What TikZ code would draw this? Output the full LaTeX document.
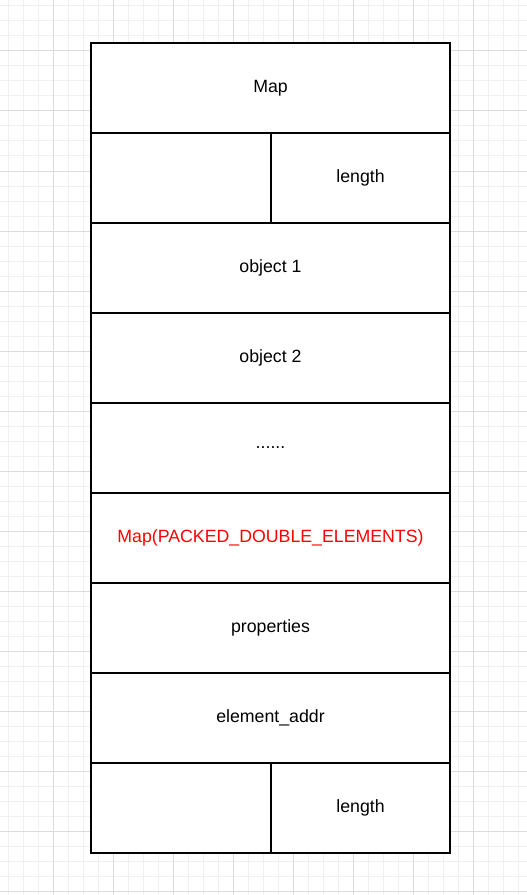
\documentclass[tikz,border=0pt]{standalone}
\usepackage{fontspec}
\setmainfont{Liberation Sans}
\usetikzlibrary{positioning}

\begin{document}
\begin{tikzpicture}[x=0.75pt,y=-0.75pt,
	font=\fontsize{13.3}{16}\selectfont,
	gridminor/.style={draw=black!6, line width=0.75pt},
	gridmajor/.style={draw=black!14, line width=0.75pt},
	cell/.style={draw, fill=white, line width=1.1pt, minimum height=67.5pt, inner sep=0pt, outer sep=0pt},
	row/.style={cell, minimum width=269.25pt},
	half/.style={cell, minimum width=134.25pt},
	gap/.style={cell, minimum width=135pt}]
	\useasboundingbox (0,0) rectangle (527,895);
	\fill[white] (0,0) rectangle (527,895);

	% background grid
	\foreach \x in {8,23,...,527} {
		\draw[gridminor] (\x,0) -- (\x,895);
	}
	\foreach \y in {6,21,...,895} {
		\draw[gridminor] (0,\y) -- (527,\y);
	}
	\foreach \x in {53,113,...,527} {
		\draw[gridmajor] (\x,0) -- (\x,895);
	}
	\foreach \y in {51,111,...,895} {
		\draw[gridmajor] (0,\y) -- (527,\y);
	}

	% memory layout
	\node[row] (map) at (270.5,88) {Map};
	\node[gap, anchor=north west] (gap1) at (map.south west) {};
	\node[half, anchor=north west] (len1) at (gap1.north east) {length};
	\node[row, anchor=north west] (obj1) at (gap1.south west) {object 1};
	\node[row, below=0pt of obj1] (obj2) {object 2};
	\node[row, below=0pt of obj2] (dots) {......};
	\node[row, below=0pt of dots, text=red] (packed) {Map(PACKED\_DOUBLE\_ELEMENTS)};
	\node[row, below=0pt of packed] (props) {properties};
	\node[row, below=0pt of props] (addr) {element\_addr};
	\node[gap, anchor=north west] (gap2) at (addr.south west) {};
	\node[half, anchor=north west] (len2) at (gap2.north east) {length};
\end{tikzpicture}
\end{document}
